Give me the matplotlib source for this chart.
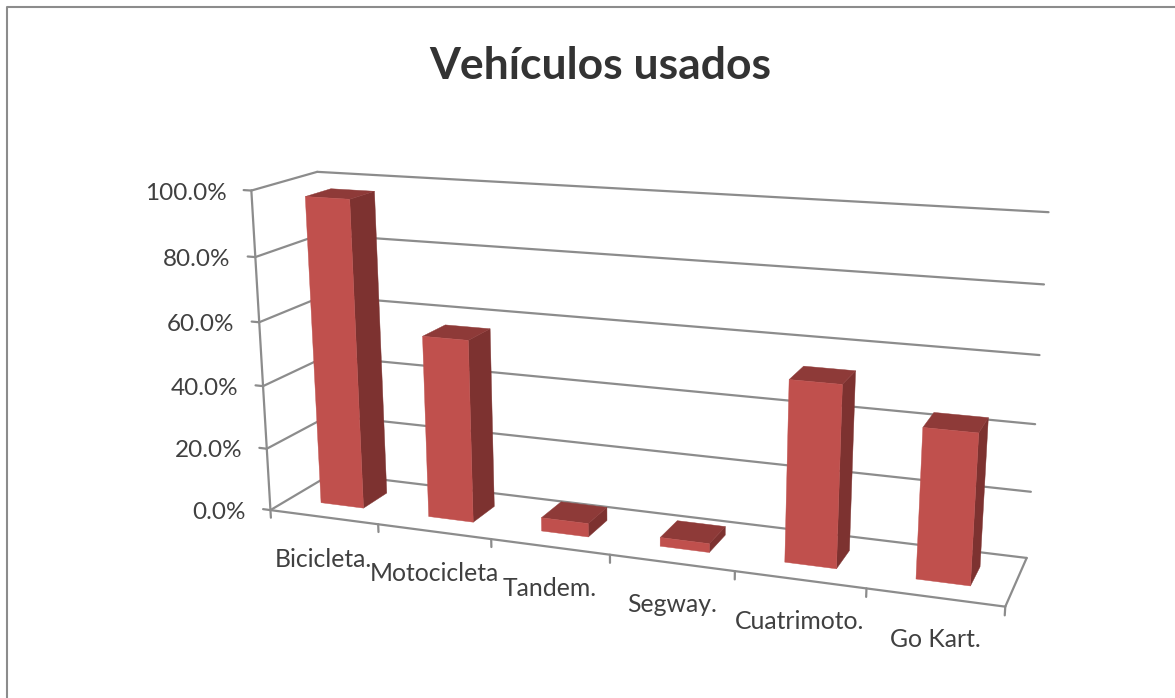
import numpy as np
import matplotlib
matplotlib.use("Agg")
import matplotlib.pyplot as plt

categories = ["Bicicleta.", "Motocicleta", "Tandem.", "Segway.", "Cuatrimoto.", "Go Kart."]
values = [97, 57, 4.2, 2.7, 54, 44]
value_ticks = [0, 20, 40, 60, 80, 100]

TEXT = "#404040"
GRID = "#8C8C8C"
FRONT = "#C0504D"
SIDE = "#7D3230"
TOP = "#8E3A38"

plt.rcParams["font.family"] = ["Lato", "DejaVu Sans"]

# points of the chart box (cat, value, depth) and where they sit on the image
box_world = [
    (0, 0, 0), (1, 0, 0), (2, 0, 0), (3, 0, 0), (4, 0, 0), (5, 0, 0), (6, 0, 0),
    (0, 20, 0), (0, 40, 0), (0, 60, 0), (0, 80, 0), (0, 100, 0),
    (0, 0, 1), (0, 100, 1), (6, 0, 1), (6, 20, 1), (6, 40, 1), (6, 60, 1), (6, 80, 1), (6, 100, 1),
]
box_image = [
    (271, 510), (378, 525), (491, 540), (610, 555), (734, 571), (866, 588), (1006, 606),
    (267, 449), (264, 386), (260, 322), (255, 257), (250, 190),
    (331, 473), (318, 172), (1027, 557), (1031, 492), (1035, 425), (1040, 355), (1044, 285), (1048, 212),
]


def fit_projection(world, image):
    rows, rhs = [], []
    for (x, y, z), (px, py) in zip(world, image):
        rows.append([x, y, z, 1, 0, 0, 0, 0, -px * x, -px * y, -px * z])
        rows.append([0, 0, 0, 0, x, y, z, 1, -py * x, -py * y, -py * z])
        rhs += [px, py]
    sol = np.linalg.lstsq(np.array(rows, float), np.array(rhs, float), rcond=None)[0]
    return np.append(sol, 1).reshape(3, 4)


P = fit_projection(box_world, box_image)


def project(x, y, z):
    q = P @ np.array([x, y, z, 1.0])
    return q[0] / q[2], q[1] / q[2]


def line3d(ax, a, b):
    pa, pb = project(*a), project(*b)
    ax.plot([pa[0], pb[0]], [pa[1], pb[1]], color=GRID, lw=1.6, solid_capstyle="round", zorder=1)


def face(ax, corners, color, z):
    pts = [project(*c) for c in corners]
    ax.fill([p[0] for p in pts], [p[1] for p in pts], color=color, lw=0.3, zorder=z)


fig = plt.figure(figsize=(11.75, 6.98), dpi=100, facecolor="white")
ax = fig.add_axes([0, 0, 1, 1])
ax.set_xlim(0, 1175)
ax.set_ylim(698, 0)
ax.axis("off")

# chart area border, only top and left show in the crop
ax.plot([7, 7, 1175], [698, 7, 7], color=GRID, lw=1.5, zorder=1)

n = len(categories)
for v in value_ticks:
    line3d(ax, (-0.07, v, 0), (0, v, 0))
    line3d(ax, (0, v, 0), (0, v, 1))
    line3d(ax, (0, v, 1), (n, v, 1))
    tx, ty = project(-0.07, v, 0)
    ax.text(tx - 17, ty + 3, f"{v:.1f}%", ha="right", va="center", fontsize=17.5, color=TEXT)

line3d(ax, (0, 0, 0), (0, 100, 0))
line3d(ax, (0, 0, 0), (n, 0, 0))
line3d(ax, (n, 0, 0), (n, 0, 1))
for i in range(n + 1):
    line3d(ax, (i, 0, 0), (i, -2.5, 0))

bar_w = 0.2
d0, d1 = 0.3, 0.7
for i, (name, val) in enumerate(zip(categories, values)):
    x0, x1 = i + 0.5 - bar_w, i + 0.5 + bar_w
    z = 2 + i
    face(ax, [(x1, 0, d0), (x1, 0, d1), (x1, val, d1), (x1, val, d0)], SIDE, z)
    face(ax, [(x0, val, d0), (x1, val, d0), (x1, val, d1), (x0, val, d1)], TOP, z)
    face(ax, [(x0, 0, d0), (x1, 0, d0), (x1, val, d0), (x0, val, d0)], FRONT, z + 0.5)
    lx, ly = project(i + 0.5, 0, 0)
    ax.text(lx, ly + 42, name, ha="center", va="center", fontsize=17.8, color=TEXT, zorder=20)

ax.text(600, 66, "Vehículos usados", ha="center", va="center", fontsize=32,
        fontweight="bold", color="#333333")

fig.savefig("out.png", dpi=100)
